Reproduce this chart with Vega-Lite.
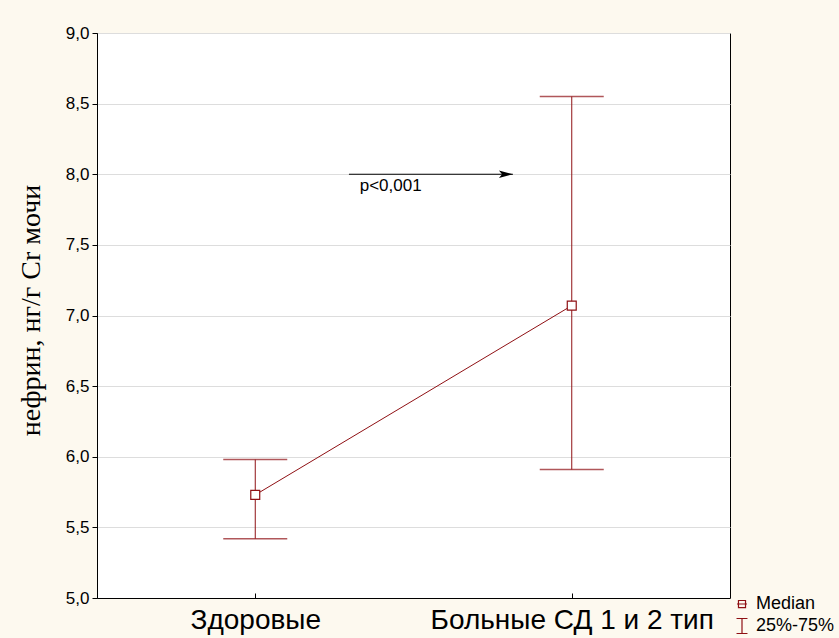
{
  "$schema": "https://vega.github.io/schema/vega-lite/v6.json",
  "autosize": "none",
  "width": 633,
  "height": 565,
  "padding": {"left": 97, "top": 33, "right": 109, "bottom": 40},
  "background": "#FDF9EF",
  "config": {
    "view": {"stroke": "#000000", "strokeWidth": 1, "fill": "#FFFFFF"},
    "font": "Liberation Sans"
  },
  "datasets": {
    "groups": [
      {"x": 1, "group": "Здоровые", "median": 5.73, "q1": 5.42, "q3": 5.98},
      {"x": 2, "group": "Больные СД 1 и 2 тип", "median": 7.07, "q1": 5.91, "q3": 8.55}
    ],
    "arrow": [
      {"x": 1.296, "y": 8.0},
      {"x": 1.814, "y": 8.0}
    ],
    "arrowhead": [{"x": 1.792, "y": 8.0}],
    "note": [{"x": 1.33, "y": 7.92, "label": "p<0,001"}],
    "legend": [{"s": "Median"}, {"s": "25%-75%"}]
  },
  "layer": [
    {
      "data": {"name": "groups"},
      "mark": {"type": "rule", "color": "#8F1014", "strokeWidth": 1},
      "encoding": {
        "x": {
          "field": "x", "type": "quantitative",
          "scale": {"domain": [0.5, 2.5], "nice": false, "zero": false},
          "axis": {
            "title": null, "values": [1, 2], "grid": false,
            "labelExpr": "datum.value == 1 ? 'Здоровые' : 'Больные СД 1 и 2 тип'",
            "labelFontSize": 28, "labelColor": "#000000", "labelPadding": 13, "labelLimit": 0,
            "tickSize": -5, "tickColor": "#000000", "domainColor": "#000000",
            "labelFlush": false
          }
        },
        "y": {
          "field": "q1", "type": "quantitative",
          "scale": {"domain": [5, 9], "nice": false, "zero": false},
          "axis": {
            "title": "нефрин, нг/г Cr мочи", "titleFont": "Liberation Serif",
            "titleFontSize": 28, "titleFontWeight": "normal", "titleColor": "#000000",
            "titleX": -52, "titleY": 277, "titleAngle": -90, "titleAlign": "center", "titleBaseline": "bottom",
            "values": [5, 5.5, 6, 6.5, 7, 7.5, 8, 8.5, 9],
            "labelExpr": "replace(format(datum.value, '.1f'), '.', ',')",
            "labelFontSize": 17, "labelColor": "#000000", "labelPadding": 3,
            "tickSize": 5, "tickColor": "#000000", "domainColor": "#000000",
            "grid": true, "gridColor": "#DDDDDD", "gridWidth": 1,
            "labelFlush": false
          }
        },
        "y2": {"field": "q3"}
      }
    },
    {
      "data": {"name": "groups"},
      "mark": {"type": "tick", "color": "#8F1014", "size": 64, "thickness": 1.5, "orient": "horizontal"},
      "encoding": {
        "x": {"field": "x", "type": "quantitative"},
        "y": {"field": "q1", "type": "quantitative"}
      }
    },
    {
      "data": {"name": "groups"},
      "mark": {"type": "tick", "color": "#8F1014", "size": 64, "thickness": 1.5, "orient": "horizontal"},
      "encoding": {
        "x": {"field": "x", "type": "quantitative"},
        "y": {"field": "q3", "type": "quantitative"}
      }
    },
    {
      "data": {"name": "groups"},
      "mark": {"type": "line", "color": "#8F1014", "strokeWidth": 1},
      "encoding": {
        "x": {"field": "x", "type": "quantitative"},
        "y": {"field": "median", "type": "quantitative"}
      }
    },
    {
      "data": {"name": "groups"},
      "mark": {"type": "point", "shape": "square", "filled": false, "fill": "#FFFFFF", "fillOpacity": 1, "color": "#8F1014", "size": 80, "strokeWidth": 1.2, "opacity": 1},
      "encoding": {
        "x": {"field": "x", "type": "quantitative"},
        "y": {"field": "median", "type": "quantitative"}
      }
    },
    {
      "data": {"name": "arrow"},
      "mark": {"type": "line", "color": "#000000", "strokeWidth": 1.2},
      "encoding": {
        "x": {"field": "x", "type": "quantitative"},
        "y": {"field": "y", "type": "quantitative"}
      }
    },
    {
      "data": {"name": "arrowhead"},
      "mark": {"type": "point", "shape": "M1,0L-1,-0.55L-0.55,0L-1,0.55Z", "filled": true, "color": "#000000", "size": 196, "opacity": 1},
      "encoding": {
        "x": {"field": "x", "type": "quantitative"},
        "y": {"field": "y", "type": "quantitative"}
      }
    },
    {
      "data": {"name": "note"},
      "mark": {"type": "text", "align": "left", "baseline": "middle", "fontSize": 17, "color": "#000000"},
      "encoding": {
        "x": {"field": "x", "type": "quantitative"},
        "y": {"field": "y", "type": "quantitative"},
        "text": {"field": "label"}
      }
    },
    {
      "data": {"name": "legend"},
      "mark": {"type": "point", "filled": false, "color": "#8F1014", "opacity": 1},
      "encoding": {
        "x": {"field": "lx", "type": "quantitative"},
        "y": {"field": "ly", "type": "quantitative"},
        "shape": {
          "field": "s", "type": "nominal",
          "scale": {
            "domain": ["Median", "25%-75%"],
            "range": ["M-0.67,0H0.67M-0.47,-0.47H0.47V0.47H-0.47Z", "M-0.73,-1H0.73M0,-1V1M-0.73,1H0.73"]
          },
          "legend": {
            "title": null, "orient": "none", "legendX": 636, "legendY": 562,
            "padding": 0, "labelFontSize": 18, "labelColor": "#000000", "labelLimit": 0,
            "symbolSize": 225, "symbolStrokeColor": "#8F1014", "symbolFillColor": "transparent",
            "symbolStrokeWidth": 1.2, "symbolOpacity": 1, "rowPadding": 3, "labelOffset": 5
          }
        }
      }
    }
  ]
}
